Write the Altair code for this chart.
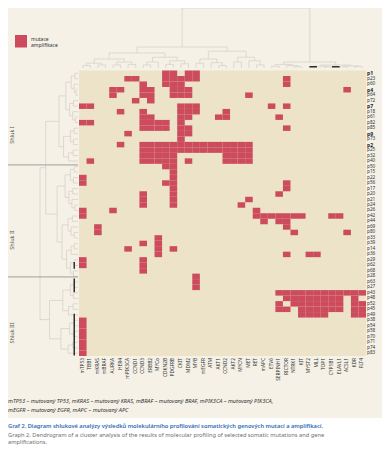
import altair as alt
import pandas as pd

# ---------------- data ----------------
genes = ["mTP53", "TBB1", "mKRAS", "mBRAF", "AURKA", "HER4", "mPIK3CA", "CCND1", "CCND3", "ERBB2",
         "MYCo", "CDKN2B", "PDGFRB", "CKIT", "MDM2", "MYB", "mEGFR", "ATM", "AKT1", "CCND2",
         "AKT2", "MYCN", "MET", "RET", "mAPC", "ETV6", "SERPINH1", "RICTOR", "NTRK1", "KIT",
         "MYST2", "MLL", "TOP1", "CYP1B1", "ELAVL1", "ACSL1", "KDR", "FLT4"]

patients = ["p1", "p23", "p60", "p4", "p64", "p72", "p7", "p18", "p61", "p82", "p85", "p9", "p73",
            "p2", "p25", "p32", "p40", "p50", "p15", "p22", "p56", "p17", "p20", "p21", "p24", "p26",
            "p42", "p44", "p69", "p80", "p33", "p39", "p14", "p36", "p29", "p62", "p68", "p28", "p63",
            "p27", "p43", "p48", "p52", "p45", "p49", "p38", "p54", "p58", "p70", "p71", "p74", "p83"]

# gene indices with a mutation / amplification, one list per patient (row order above)
positive = [
    [11, 12, 14, 15],
    [6, 7, 11, 12, 13, 14, 15, 27],
    [8, 11, 12, 13, 27],
    [4, 5, 8, 9, 12, 13, 14, 35],
    [4, 8, 9, 12, 13, 14, 22],
    [7, 9],
    [0, 1, 13, 14, 15, 25, 27],
    [5, 8, 13, 14, 15, 19],
    [8, 9, 13, 14, 18, 19, 26],
    [0, 1, 8, 9, 10, 11, 13],
    [8, 9, 10, 11, 13, 14, 27],
    [6, 13, 14],
    [13],
    [5, 8, 9, 10, 11, 12, 13, 14, 15, 16, 17, 18, 19, 20, 21, 22],
    [8, 9, 10, 11, 12, 13, 14, 15, 16, 17, 18, 19, 20, 21, 22],
    [8, 9, 10, 11, 12, 19, 20, 21, 22],
    [1, 8, 9, 10, 11, 12, 14, 19, 20, 21, 22],
    [11, 12],
    [12],
    [0, 12],
    [0, 11, 12, 27],
    [12, 27],
    [8, 12, 26],
    [8, 12, 22],
    [8, 12, 21],
    [0, 4, 23],
    [0, 23, 24, 25, 26, 27, 28, 29, 33, 34],
    [24, 26, 27],
    [2, 27],
    [2, 28, 35],
    [10],
    [8, 10],
    [6, 10, 12],
    [10, 27, 30, 31],
    [0, 8],
    [0, 8],
    [8],
    [15],
    [15],
    [15],
    [26, 27, 28, 29, 30, 31, 32, 33, 34, 35, 36, 37],
    [27, 28, 29, 30, 31, 32, 33, 34, 36],
    [26, 28, 29, 30, 31, 32, 33, 34, 36, 37],
    [26, 27, 29, 30, 31, 32, 33, 34, 36, 37],
    [29, 30, 31, 32, 36, 37],
    [0], [0], [0], [0], [0], [0], [0],
]

# dendrograms: (merge height, left, right), leaves are indices
top_tree = (1.0,
            (0.35,
             (0.25, (0.15, (0.08, (0.04, 0, 1), (0.05, 2, 3)), (0.1, (0.05, 4, 5), (0.06, 6, 7))),
              (0.18, (0.1, (0.05, 8, 9), 10), (0.12, (0.06, 11, 12), (0.07, 13, 14)))),
             (0.28, (0.15, (0.08, 15, 16), (0.09, 17, (0.04, 18, 19))),
              (0.18, (0.1, 20, 21), (0.12, 22, (0.05, 23, 24))))),
            (0.1, (0.06, (0.03, 25, 26), (0.04, 27, (0.02, 28, 29))),
             (0.05, (0.03, (0.015, 30, 31), (0.02, 32, 33)), (0.035, (0.02, 34, 35), (0.025, 36, 37)))))

clI = (0.5, (0.32, (0.18, (0.08, 0, 1), (0.1, 2, (0.05, 3, 4))), (0.22, (0.12, 5, 6), (0.14, 7, (0.07, 8, 9)))),
       (0.38, (0.2, (0.1, 10, 11), (0.12, 12, 13)), (0.25, (0.13, 14, 15), 16)))
clII = (0.55, (0.34, (0.2, (0.1, 17, 18), (0.12, 19, 20)), (0.24, (0.14, 21, 22), (0.16, 23, (0.08, 24, 25)))),
        (0.42, (0.26, (0.15, 26, 27), (0.18, 28, (0.1, 29, 30))),
         (0.3, (0.18, (0.1, 31, 32), 33), (0.2, (0.1, 34, 35), (0.12, 36, 37)))))
clIII = (0.75, (0.4, (0.2, (0.1, 38, 39), (0.12, 40, 41)), (0.25, (0.13, 42, 43), 44)),
         (0.45, (0.22, (0.1, 45, 46), (0.12, 47, 48)), (0.26, (0.14, 49, 50), 51)))
left_tree = (1.0, (0.85, clI, clII), clIII)

cluster_cuts = [17.2, 37.6]
top_marks = [(30.5, 31.5), (33.5, 34.5)]
left_marks = [(34.9, 36.1), (37.9, 40.4), (44.3, 51.9)]

# ---------------- layout ----------------
W, H = 374, 437
X0, CW = 71.0, 7.553
Y0, RH = 62.5, 5.49
BG = "#f5f1e7"
CELL = "#ece3c9"
RED = "#cc4b5d"
DEN = "#d3cec3"
FONT = "Noto Sans"

xs = alt.Scale(domain=[-X0 / CW, (W - X0) / CW], nice=False, zero=False)
ys = alt.Scale(domain=[-Y0 / RH, (H - Y0) / RH], nice=False, zero=False, reverse=True)


def top_y(h):
    return (60 - 60 * h - Y0) / RH


def left_x(h):
    return (70 - 38 * h - X0) / CW


def build(node, out):
    if isinstance(node, int):
        return node + 0.5, 0.0
    h, a, b = node
    pa, ha = build(a, out)
    pb, hb = build(b, out)
    out.append((pa, pa, ha, h))
    out.append((pb, pb, hb, h))
    out.append((pa, pb, h, h))
    return (pa + pb) / 2, h


tsegs, lsegs = [], []
build(top_tree, tsegs)
build(left_tree, lsegs)
seg_rows = []
for p1, p2, h1, h2 in tsegs:
    seg_rows.append({"x": p1, "x2": p2, "y": top_y(h1), "y2": top_y(h2)})
for p1, p2, h1, h2 in lsegs:
    seg_rows.append({"x": left_x(h1), "x2": left_x(h2), "y": p1, "y2": p2})
seg_df = pd.DataFrame(seg_rows)

mark_rows = [{"x": a, "x2": b, "y": top_y(0.02), "y2": top_y(0.02)} for a, b in top_marks]
mark_rows += [{"x": left_x(0.1), "x2": left_x(0.1), "y": a, "y2": b} for a, b in left_marks]
mark_df = pd.DataFrame(mark_rows)

cells = pd.DataFrame([{"c": c, "c2": c + 1, "r": r, "r2": r + 1}
                      for r, lst in enumerate(positive) for c in lst])
bgdf = pd.DataFrame([{"c": 0, "c2": len(genes), "r": 0, "r2": len(patients)}])
rowdf = pd.DataFrame({"label": patients, "r": [i + 0.5 for i in range(len(patients))]})
coldf = pd.DataFrame({"label": genes, "c": [i + 0.5 for i in range(len(genes))]})
cutdf = pd.DataFrame({"r": cluster_cuts})


def rect_layer(df, color):
    return alt.Chart(df).mark_rect(color=color).encode(
        x=alt.X("c:Q", scale=xs, axis=None), x2="c2:Q",
        y=alt.Y("r:Q", scale=ys, axis=None), y2="r2:Q")


def seg_layer(df, color, width):
    return alt.Chart(df).mark_rule(color=color, strokeWidth=width).encode(
        x=alt.X("x:Q", scale=xs, axis=None), x2="x2:Q",
        y=alt.Y("y:Q", scale=ys, axis=None), y2="y2:Q")


def note(text, px, py, **kw):
    base = dict(font=FONT, fontSize=5.5, color="#333333", align="left", baseline="middle")
    base.update(kw)
    return alt.Chart(pd.DataFrame({"t": [text]})).mark_text(**base).encode(
        x=alt.value(px), y=alt.value(py), text="t:N")


white = alt.Chart(pd.DataFrame({"t": [1]})).mark_rect(color="white").encode(
    x=alt.value(-10), x2=alt.value(W + 10), y=alt.value(410), y2=alt.value(H + 10))

legend_sq = alt.Chart(pd.DataFrame({"t": [1]})).mark_rect(color=RED).encode(
    x=alt.value(7), x2=alt.value(19), y=alt.value(27), y2=alt.value(39.5))

cuts = alt.Chart(cutdf).mark_rule(color="#8a8a8a", strokeWidth=0.8).encode(
    x=alt.value(0), x2=alt.value(70), y=alt.Y("r:Q", scale=ys, axis=None))

row_small = alt.Chart(rowdf).transform_filter("length(datum.label) > 2").mark_text(
    font=FONT, fontSize=4.7, align="left", baseline="middle", color="#333333").encode(
    x=alt.value(359), y=alt.Y("r:Q", scale=ys, axis=None), text="label:N")
row_big = alt.Chart(rowdf).transform_filter("length(datum.label) <= 2").mark_text(
    font=FONT, fontSize=5.1, fontWeight="bold", align="left", baseline="middle", color="#222222").encode(
    x=alt.value(359), y=alt.Y("r:Q", scale=ys, axis=None), text="label:N")
col_lbl = alt.Chart(coldf).mark_text(
    font=FONT, fontSize=4.8, align="right", baseline="middle", angle=270, color="#333333").encode(
    x=alt.X("c:Q", scale=xs, axis=None), y=alt.value(350), text="label:N")

layers = [
    white,
    rect_layer(bgdf, CELL),
    rect_layer(cells, RED),
    seg_layer(seg_df, DEN, 0.7),
    seg_layer(mark_df, "#000000", 1.2),
    cuts,
    row_small, row_big, col_lbl,
    legend_sq,
    note("mutace", 23, 30.5, fontSize=5),
    note("amplifikace", 23, 37, fontSize=5),
    note("Shluk I", 4, 127, angle=270, align="center", color="#555555"),
    note("Shluk II", 4, 232, angle=270, align="center", color="#555555"),
    note("Shluk III", 4, 325, angle=270, align="center", color="#555555"),
    note("mTP53 – mutovaný TP53, mKRAS – mutovaný KRAS, mBRAF – mutovaný BRAF, mPIK3CA – mutovaný PIK3CA,",
         0, 393, fontStyle="italic", fontSize=5.6),
    note("mEGFR – mutovaný EGFR, mAPC – mutovaný APC", 0, 402, fontStyle="italic", fontSize=5.6),
    note("Graf 2. Diagram shlukové analýzy výsledků molekulárního profilování somatických genových mutací a amplifikací.",
         0, 418, fontSize=5.7, fontWeight=600, color="#2e6db4"),
    note("Graph 2. Dendrogram of a cluster analysis of the results of molecular profiling of selected somatic mutations and gene",
         0, 426.5, fontSize=5.7, color="#707070"),
    note("amplifications.", 0, 434, fontSize=5.7, color="#707070"),
]

chart = alt.layer(*layers).properties(
    width=W, height=H, autosize=alt.AutoSizeParams(type="none"), padding=0,
    background=BG,
).configure_view(stroke=None)

chart.save("out.html", embed_options={"renderer": "svg", "actions": False})
